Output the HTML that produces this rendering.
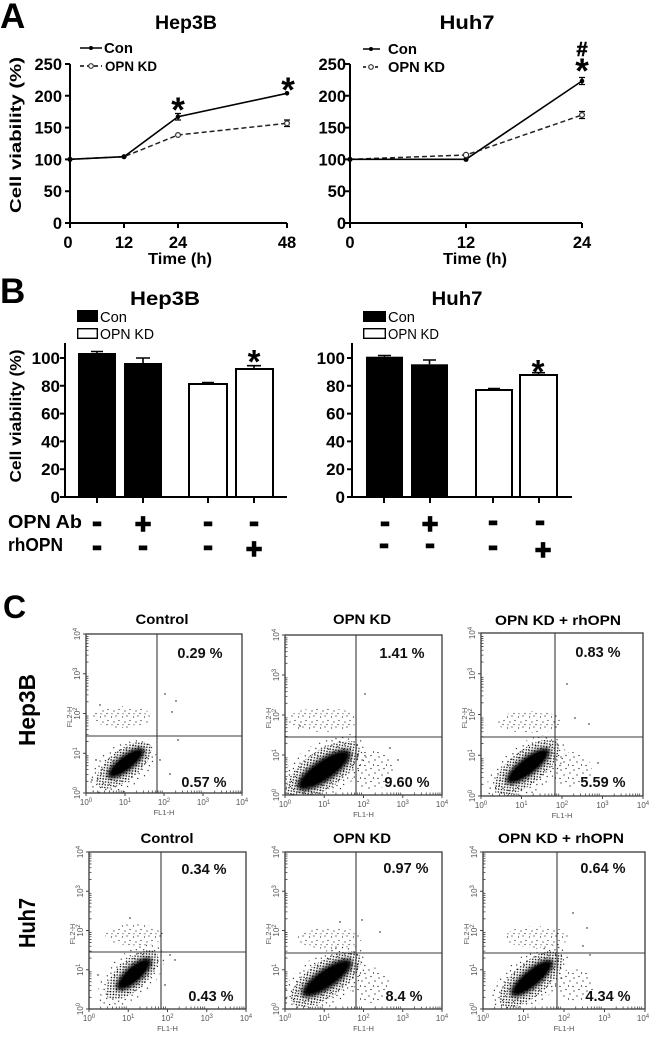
<!DOCTYPE html>
<html><head><meta charset="utf-8"><style>
html,body{margin:0;padding:0;background:#fff;}
svg{display:block;}
text{font-family:"Liberation Sans",Arial,sans-serif;}
.b{font-weight:bold;}
</style></head><body>
<svg width="650" height="1045" viewBox="0 0 650 1045" xmlns="http://www.w3.org/2000/svg">
<defs>
<pattern id="sp" width="13" height="13" patternUnits="userSpaceOnUse"><g fill="#000"><circle cx="2" cy="3" r="0.6"/><circle cx="7" cy="1.5" r="0.6"/><circle cx="11" cy="6" r="0.6"/><circle cx="5" cy="8" r="0.6"/><circle cx="9.5" cy="11" r="0.6"/><circle cx="1" cy="11.5" r="0.6"/></g></pattern>
<pattern id="sp2" width="11" height="11" patternUnits="userSpaceOnUse"><g fill="#222"><circle cx="1.5" cy="2" r="0.6"/><circle cx="6" cy="1" r="0.6"/><circle cx="9" cy="5.5" r="0.6"/><circle cx="4" cy="7" r="0.6"/><circle cx="8" cy="9.5" r="0.6"/><circle cx="2" cy="9.8" r="0.55"/></g></pattern>
<pattern id="md" width="4" height="4" patternUnits="userSpaceOnUse"><circle cx="1" cy="1" r="0.75" fill="#000"/><circle cx="3" cy="3" r="0.75" fill="#000"/></pattern>
<filter id="bl" x="-50%" y="-50%" width="200%" height="200%"><feGaussianBlur stdDeviation="2"/></filter>
<path id="mx" d="M11.7 0v-2.5M18.6 0v-2.5M23.5 0v-2.5M27.3 0v-2.5M30.3 0v-2.5M33 0v-2.5M35.2 0v-2.5M37.2 0v-2.5" stroke="#444" stroke-width="0.8"/>
<path id="my" d="M0 -11.7h2.5M0 -18.6h2.5M0 -23.5h2.5M0 -27.3h2.5M0 -30.3h2.5M0 -33h2.5M0 -35.2h2.5M0 -37.2h2.5" stroke="#444" stroke-width="0.8"/>
<clipPath id="c1"><rect x="86" y="634" width="156" height="159"/></clipPath>
<clipPath id="c2"><rect x="285" y="635" width="157" height="160"/></clipPath>
<clipPath id="c3"><rect x="481" y="633" width="162" height="163"/></clipPath>
<clipPath id="c4"><rect x="89" y="852" width="157" height="157"/></clipPath>
<clipPath id="c5"><rect x="285" y="852" width="157" height="157"/></clipPath>
<clipPath id="c6"><rect x="483" y="852" width="162" height="157"/></clipPath>
</defs>

<!-- ================= PANEL A LEFT ================= -->
<text x="0" y="28" class="b" font-size="35">A</text>
<text x="186" y="29" class="b" font-size="19" text-anchor="middle" textLength="62" lengthAdjust="spacingAndGlyphs">Hep3B</text>
<line x1="80" y1="48" x2="102" y2="48" stroke="#000" stroke-width="1.5"/>
<circle cx="91" cy="48" r="2" fill="#000"/>
<text x="104" y="53" class="b" font-size="15" textLength="29" lengthAdjust="spacingAndGlyphs">Con</text>
<line x1="80" y1="66" x2="102" y2="66" stroke="#000" stroke-width="1.5" stroke-dasharray="4,3"/>
<circle cx="91" cy="66" r="2.3" fill="#fff" stroke="#333" stroke-width="1.2"/>
<text x="105" y="71" class="b" font-size="14" textLength="52" lengthAdjust="spacingAndGlyphs">OPN KD</text>
<path d="M70 64V223H287" fill="none" stroke="#000" stroke-width="2"/>
<path d="M65 64H70M65 95.8H70M65 127.6H70M65 159.4H70M65 191.2H70M65 223H70M70 223V228M124 223V228M178 223V228M287 223V228" stroke="#000" stroke-width="2"/>
<g class="b" font-size="16.5" text-anchor="end">
<text x="62" y="70">250</text><text x="62" y="101.8">200</text><text x="62" y="133.6">150</text><text x="62" y="165.4">100</text><text x="62" y="197.2">50</text><text x="62" y="229">0</text>
</g>
<g class="b" font-size="16.5" text-anchor="middle">
<text x="68" y="248">0</text><text x="124" y="248">12</text><text x="178" y="248">24</text><text x="287" y="248">48</text>
</g>
<text x="180" y="264" class="b" font-size="16" text-anchor="middle" textLength="64" lengthAdjust="spacingAndGlyphs">Time (h)</text>
<text transform="translate(21,135) rotate(-90)" class="b" font-size="16" text-anchor="middle" textLength="156" lengthAdjust="spacingAndGlyphs">Cell viability (%)</text>
<polyline points="70,159.3 124,156.7 178,135 287,123.3" fill="none" stroke="#222" stroke-width="1.5" stroke-dasharray="5,3"/>
<polyline points="70,159.3 124,156.7 178,116.7 287,93.3" fill="none" stroke="#000" stroke-width="1.6"/>
<path d="M178 113.5V120M175 113.5H181M175 120H181M287 120V126.5M284 120H290M284 126.5H290" stroke="#000" stroke-width="1.3"/>
<circle cx="70" cy="159.3" r="2.6" fill="#000"/><circle cx="124" cy="156.7" r="2.6" fill="#000"/><circle cx="178" cy="116.7" r="2.3" fill="#000"/><circle cx="287" cy="93.3" r="2.3" fill="#000"/>
<circle cx="178" cy="135" r="2.4" fill="#fff" stroke="#333" stroke-width="1.2"/><circle cx="287" cy="123.3" r="2.4" fill="#fff" stroke="#333" stroke-width="1.2"/>
<text x="178" y="122" class="b" font-size="35" text-anchor="middle">*</text>
<text x="288" y="102" class="b" font-size="35" text-anchor="middle">*</text>

<!-- ================= PANEL A RIGHT ================= -->
<text x="467" y="29" class="b" font-size="19" text-anchor="middle" textLength="55" lengthAdjust="spacingAndGlyphs">Huh7</text>
<line x1="363" y1="49" x2="380" y2="49" stroke="#000" stroke-width="1.5"/>
<circle cx="371" cy="49" r="2" fill="#000"/>
<text x="388" y="54" class="b" font-size="15" textLength="29" lengthAdjust="spacingAndGlyphs">Con</text>
<line x1="363" y1="67" x2="380" y2="67" stroke="#000" stroke-width="1.5" stroke-dasharray="3,3"/>
<circle cx="371" cy="67" r="2.3" fill="#fff" stroke="#333" stroke-width="1.2"/>
<text x="388" y="72" class="b" font-size="15" textLength="57" lengthAdjust="spacingAndGlyphs">OPN KD</text>
<path d="M350 64V223H582" fill="none" stroke="#000" stroke-width="2"/>
<path d="M345 64H350M345 95.8H350M345 127.6H350M345 159.4H350M345 191.2H350M345 223H350M350 223V228M466 223V228M582 223V228" stroke="#000" stroke-width="2"/>
<g class="b" font-size="16.5" text-anchor="end">
<text x="346" y="70">250</text><text x="346" y="101.8">200</text><text x="346" y="133.6">150</text><text x="346" y="165.4">100</text><text x="346" y="197.2">50</text><text x="346" y="229">0</text>
</g>
<g class="b" font-size="16.5" text-anchor="middle">
<text x="350" y="248">0</text><text x="466" y="248">12</text><text x="582" y="248">24</text>
</g>
<text x="475" y="264" class="b" font-size="16" text-anchor="middle" textLength="64" lengthAdjust="spacingAndGlyphs">Time (h)</text>
<polyline points="350,159.3 466,155 582,115" fill="none" stroke="#222" stroke-width="1.5" stroke-dasharray="5,3"/>
<polyline points="350,159.3 466,159.3 582,81" fill="none" stroke="#000" stroke-width="1.6"/>
<path d="M582 77.5V84.5M579 77.5H585M579 84.5H585M582 111.5V118.5M579 111.5H585M579 118.5H585" stroke="#000" stroke-width="1.3"/>
<circle cx="350" cy="159.3" r="2.6" fill="#000"/><circle cx="466" cy="159.3" r="2.6" fill="#000"/><circle cx="582" cy="81" r="2.3" fill="#000"/>
<circle cx="466" cy="155" r="2.6" fill="#fff" stroke="#333" stroke-width="1.2"/><circle cx="582" cy="115" r="2.4" fill="#fff" stroke="#333" stroke-width="1.2"/>
<text x="582" y="56" class="b" font-size="20" text-anchor="middle" stroke="#000" stroke-width="0.6">#</text>
<text x="582" y="83" class="b" font-size="35" text-anchor="middle">*</text>

<!-- ================= PANEL B LEFT ================= -->
<text x="0" y="303" class="b" font-size="35">B</text>
<text x="165" y="305" class="b" font-size="19" text-anchor="middle" textLength="70" lengthAdjust="spacingAndGlyphs">Hep3B</text>
<rect x="77" y="310" width="21" height="12" fill="#000"/>
<text x="100" y="322" font-size="15" textLength="27" lengthAdjust="spacingAndGlyphs">Con</text>
<rect x="77.7" y="328.7" width="19.6" height="9.6" fill="#fff" stroke="#000" stroke-width="1.4"/>
<text x="100" y="339" font-size="15" textLength="54" lengthAdjust="spacingAndGlyphs">OPN KD</text>
<path d="M65 343V497H287" fill="none" stroke="#000" stroke-width="2"/>
<path d="M60 358H65M60 385.8H65M60 413.6H65M60 441.4H65M60 469.2H65M60 497H65M97 497V503M143 497V503M208 497V503M254 497V503" stroke="#000" stroke-width="2"/>
<g class="b" font-size="17" text-anchor="end">
<text x="60" y="364">100</text><text x="60" y="391.8">80</text><text x="60" y="419.6">60</text><text x="60" y="447.4">40</text><text x="60" y="475.2">20</text><text x="60" y="503">0</text>
</g>
<text transform="translate(21,416) rotate(-90)" class="b" font-size="16" text-anchor="middle" textLength="133" lengthAdjust="spacingAndGlyphs">Cell viability (%)</text>
<rect x="78" y="353" width="38" height="144" fill="#000"/>
<rect x="124" y="363" width="38" height="134" fill="#000"/>
<rect x="189" y="384" width="38" height="113" fill="#fff" stroke="#000" stroke-width="2"/>
<rect x="236" y="369" width="37" height="128" fill="#fff" stroke="#000" stroke-width="2"/>
<path d="M97 353V351.5M91 351.5H103M143 363V358M136 358H150M208 384V382.5M202 382.5H214M254 369V365.7M247 365.7H261" stroke="#000" stroke-width="1.6"/>
<text x="254" y="373" class="b" font-size="33" text-anchor="middle">*</text>
<text x="8" y="528" class="b" font-size="18" textLength="74" lengthAdjust="spacingAndGlyphs">OPN Ab</text>
<text x="8" y="551" class="b" font-size="18" textLength="55" lengthAdjust="spacingAndGlyphs">rhOPN</text>
<g class="b" font-size="28" text-anchor="middle" stroke="#000" stroke-width="1.4">
<text x="97" y="531">-</text><text x="143" y="533">+</text><text x="208" y="531">-</text><text x="254" y="531">-</text>
<text x="97" y="555">-</text><text x="143" y="555">-</text><text x="208" y="555">-</text><text x="254" y="558">+</text>
</g>

<!-- ================= PANEL B RIGHT ================= -->
<text x="457" y="305" class="b" font-size="19" text-anchor="middle" textLength="51" lengthAdjust="spacingAndGlyphs">Huh7</text>
<rect x="363" y="311" width="23" height="11" fill="#000"/>
<text x="388" y="322" font-size="15" textLength="27" lengthAdjust="spacingAndGlyphs">Con</text>
<rect x="363.7" y="328.7" width="21.6" height="9.6" fill="#fff" stroke="#000" stroke-width="1.4"/>
<text x="388" y="339" font-size="15" textLength="51" lengthAdjust="spacingAndGlyphs">OPN KD</text>
<path d="M352 343V497H572" fill="none" stroke="#000" stroke-width="2"/>
<path d="M347 358H352M347 385.8H352M347 413.6H352M347 441.4H352M347 469.2H352M347 497H352M384 497V503M430 497V503M493 497V503M539 497V503" stroke="#000" stroke-width="2"/>
<g class="b" font-size="17" text-anchor="end">
<text x="345" y="364">100</text><text x="345" y="391.8">80</text><text x="345" y="419.6">60</text><text x="345" y="447.4">40</text><text x="345" y="475.2">20</text><text x="345" y="503">0</text>
</g>
<rect x="366" y="356.7" width="37" height="140.3" fill="#000"/>
<rect x="411" y="364.3" width="37" height="132.7" fill="#000"/>
<rect x="476" y="390" width="36" height="107" fill="#fff" stroke="#000" stroke-width="2"/>
<rect x="520" y="375" width="37" height="122" fill="#fff" stroke="#000" stroke-width="2"/>
<path d="M384.5 356.7V355.5M378 355.5H391M429.5 364.3V360M423 360H436M494 390V388.5M488 388.5H500M538.5 375V372.7M532 372.7H545" stroke="#000" stroke-width="1.6"/>
<text x="538" y="383" class="b" font-size="33" text-anchor="middle">*</text>
<g class="b" font-size="28" text-anchor="middle" stroke="#000" stroke-width="1.4">
<text x="385" y="531">-</text><text x="430" y="533">+</text><text x="493" y="530">-</text><text x="540" y="530">-</text>
<text x="384" y="553">-</text><text x="430" y="553">-</text><text x="493" y="555">-</text><text x="543" y="559">+</text>
</g>

<!-- ================= PANEL C ================= -->
<text x="3" y="618" class="b" font-size="32">C</text>
<text transform="translate(35,710) rotate(-90)" class="b" font-size="23" text-anchor="middle" textLength="72" lengthAdjust="spacingAndGlyphs">Hep3B</text>
<text transform="translate(35,923) rotate(-90)" class="b" font-size="23" text-anchor="middle" textLength="50" lengthAdjust="spacingAndGlyphs">Huh7</text>
<text x="162" y="624" class="b" font-size="14" text-anchor="middle" textLength="53" lengthAdjust="spacingAndGlyphs">Control</text>
<text x="362" y="624" class="b" font-size="14" text-anchor="middle" textLength="58" lengthAdjust="spacingAndGlyphs">OPN KD</text>
<text x="558" y="625" class="b" font-size="14" text-anchor="middle" textLength="126" lengthAdjust="spacingAndGlyphs">OPN KD + rhOPN</text>
<text x="167" y="843" class="b" font-size="14" text-anchor="middle" textLength="53" lengthAdjust="spacingAndGlyphs">Control</text>
<text x="362" y="843" class="b" font-size="14" text-anchor="middle" textLength="58" lengthAdjust="spacingAndGlyphs">OPN KD</text>
<text x="561" y="843" class="b" font-size="14" text-anchor="middle" textLength="126" lengthAdjust="spacingAndGlyphs">OPN KD + rhOPN</text>

<!-- clusters -->
<g clip-path="url(#c1)">
<ellipse cx="122" cy="768" rx="40" ry="22" transform="rotate(-38 122 768)" fill="url(#sp)"/>
<ellipse cx="124" cy="765" rx="33" ry="15" transform="rotate(-38 124 765)" fill="url(#md)"/>
<ellipse cx="126" cy="763" rx="23" ry="8" transform="rotate(-38 126 763)" fill="#000" filter="url(#bl)"/>
<ellipse cx="126" cy="763" rx="18" ry="5.5" transform="rotate(-38 126 763)" fill="#000"/>
<ellipse cx="122" cy="717" rx="30" ry="11" fill="url(#sp2)"/>
<g fill="#000"><circle cx="165" cy="694" r=".7"/><circle cx="176" cy="701" r=".7"/><circle cx="172" cy="712" r=".7"/><circle cx="160" cy="760" r=".7"/><circle cx="170" cy="774" r=".7"/><circle cx="178" cy="740" r=".7"/><circle cx="96" cy="760" r=".7"/><circle cx="92" cy="780" r=".7"/><circle cx="100" cy="705" r=".7"/></g>
</g>
<g clip-path="url(#c2)">
<ellipse cx="322" cy="771" rx="52" ry="27" transform="rotate(-35 322 771)" fill="url(#sp)"/>
<ellipse cx="323" cy="770" rx="43" ry="19" transform="rotate(-35 323 770)" fill="url(#md)"/>
<ellipse cx="324" cy="770" rx="32" ry="11" transform="rotate(-35 324 770)" fill="#000" filter="url(#bl)"/>
<ellipse cx="324" cy="770" rx="26" ry="8" transform="rotate(-35 324 770)" fill="#000"/>
<ellipse cx="323" cy="720" rx="35" ry="12" fill="url(#sp2)"/>
<ellipse cx="372" cy="770" rx="22" ry="20" fill="url(#sp)"/>
<g fill="#000"><circle cx="365" cy="694" r=".7"/><circle cx="390" cy="748" r=".7"/><circle cx="398" cy="760" r=".7"/><circle cx="300" cy="726" r=".7"/></g>
</g>
<g clip-path="url(#c3)">
<ellipse cx="526" cy="769" rx="46" ry="24" transform="rotate(-38 526 769)" fill="url(#sp)"/>
<ellipse cx="527" cy="767" rx="39" ry="17" transform="rotate(-38 527 767)" fill="url(#md)"/>
<ellipse cx="528" cy="766" rx="27" ry="9" transform="rotate(-38 528 766)" fill="#000" filter="url(#bl)"/>
<ellipse cx="528" cy="766" rx="22" ry="6.5" transform="rotate(-38 528 766)" fill="#000"/>
<ellipse cx="530" cy="722" rx="33" ry="11" fill="url(#sp2)"/>
<ellipse cx="572" cy="770" rx="20" ry="18" fill="url(#sp)"/>
<g fill="#000"><circle cx="567" cy="684" r=".7"/><circle cx="589" cy="724" r=".7"/><circle cx="575" cy="718" r=".7"/><circle cx="598" cy="763" r=".7"/></g>
</g>
<g clip-path="url(#c4)">
<ellipse cx="131" cy="976" rx="40" ry="22" transform="rotate(-42 131 976)" fill="url(#sp)"/>
<ellipse cx="132" cy="975" rx="33" ry="15" transform="rotate(-42 132 975)" fill="url(#md)"/>
<ellipse cx="134" cy="974" rx="23" ry="8.5" transform="rotate(-42 134 974)" fill="#000" filter="url(#bl)"/>
<ellipse cx="134" cy="974" rx="18" ry="6" transform="rotate(-42 134 974)" fill="#000"/>
<ellipse cx="135" cy="935" rx="30" ry="11" fill="url(#sp2)"/>
<g fill="#000"><circle cx="170" cy="955" r=".7"/><circle cx="175" cy="960" r=".7"/><circle cx="165" cy="985" r=".7"/><circle cx="130" cy="918" r=".7"/><circle cx="98" cy="975" r=".7"/></g>
</g>
<g clip-path="url(#c5)">
<ellipse cx="325" cy="980" rx="48" ry="25" transform="rotate(-35 325 980)" fill="url(#sp)"/>
<ellipse cx="326" cy="979" rx="41" ry="18" transform="rotate(-35 326 979)" fill="url(#md)"/>
<ellipse cx="327" cy="978" rx="30" ry="10" transform="rotate(-35 327 978)" fill="#000" filter="url(#bl)"/>
<ellipse cx="327" cy="978" rx="24" ry="7" transform="rotate(-35 327 978)" fill="#000"/>
<ellipse cx="330" cy="938" rx="32" ry="11" fill="url(#sp2)"/>
<ellipse cx="370" cy="985" rx="20" ry="18" fill="url(#sp)"/>
<g fill="#000"><circle cx="362" cy="920" r=".7"/><circle cx="380" cy="932" r=".7"/><circle cx="340" cy="922" r=".7"/></g>
</g>
<g clip-path="url(#c6)">
<ellipse cx="530" cy="980" rx="46" ry="24" transform="rotate(-40 530 980)" fill="url(#sp)"/>
<ellipse cx="531" cy="979" rx="39" ry="17" transform="rotate(-40 531 979)" fill="url(#md)"/>
<ellipse cx="532" cy="978" rx="27" ry="9" transform="rotate(-40 532 978)" fill="#000" filter="url(#bl)"/>
<ellipse cx="532" cy="978" rx="22" ry="6.5" transform="rotate(-40 532 978)" fill="#000"/>
<ellipse cx="537" cy="937" rx="32" ry="11" fill="url(#sp2)"/>
<ellipse cx="574" cy="985" rx="20" ry="16" fill="url(#sp)"/>
<g fill="#000"><circle cx="573" cy="913" r=".7"/><circle cx="583" cy="946" r=".7"/><circle cx="587" cy="928" r=".7"/><circle cx="590" cy="955" r=".7"/></g>
</g>

<!-- P1 -->
<g transform="translate(86,634)">
<rect width="156" height="159" fill="none" stroke="#3a3a3a" stroke-width="1.3"/>
<path d="M71 0V159M0 102H156" stroke="#3a3a3a" stroke-width="1.1"/>
<path d="M0 159v3M39 159v3M78 159v3M117 159v3M156 159v3M0 0h-3M0 39.75h-3M0 79.5h-3M0 119.25h-3M0 159h-3" stroke="#444" stroke-width="1"/>
<use href="#mx" x="0" y="159"/><use href="#mx" x="39" y="159"/><use href="#mx" x="78" y="159"/><use href="#mx" x="117" y="159"/>
<use href="#my" x="0" y="159"/><use href="#my" x="0" y="119.25"/><use href="#my" x="0" y="79.5"/><use href="#my" x="0" y="39.75"/>
<g font-size="8" fill="#555" text-anchor="middle">
<text x="0" y="171">10<tspan dy="-3" font-size="6">0</tspan></text><text x="39" y="171">10<tspan dy="-3" font-size="6">1</tspan></text><text x="78" y="171">10<tspan dy="-3" font-size="6">2</tspan></text><text x="117" y="171">10<tspan dy="-3" font-size="6">3</tspan></text><text x="156" y="171">10<tspan dy="-3" font-size="6">4</tspan></text>
<text x="78" y="181" font-size="7.5">FL1-H</text>
<text transform="translate(-6,159) rotate(-90)">10<tspan dy="-3" font-size="6">0</tspan></text><text transform="translate(-6,119.25) rotate(-90)">10<tspan dy="-3" font-size="6">1</tspan></text><text transform="translate(-6,79.5) rotate(-90)">10<tspan dy="-3" font-size="6">2</tspan></text><text transform="translate(-6,39.75) rotate(-90)">10<tspan dy="-3" font-size="6">3</tspan></text><text transform="translate(-6,0) rotate(-90)">10<tspan dy="-3" font-size="6">4</tspan></text>
<text transform="translate(-14,83) rotate(-90)" font-size="7.5">FL2-H</text>
</g>
</g>
<!-- P2 -->
<g transform="translate(285,635)">
<rect width="157" height="160" fill="none" stroke="#3a3a3a" stroke-width="1.3"/>
<path d="M71 0V160M0 102H157" stroke="#3a3a3a" stroke-width="1.1"/>
<path d="M0 160v3M39.25 160v3M78.5 160v3M117.75 160v3M157 160v3M0 0h-3M0 40h-3M0 80h-3M0 120h-3M0 160h-3" stroke="#444" stroke-width="1"/>
<use href="#mx" x="0" y="160"/><use href="#mx" x="39.25" y="160"/><use href="#mx" x="78.5" y="160"/><use href="#mx" x="117.75" y="160"/>
<use href="#my" x="0" y="160"/><use href="#my" x="0" y="120"/><use href="#my" x="0" y="80"/><use href="#my" x="0" y="40"/>
<g font-size="8" fill="#555" text-anchor="middle">
<text x="0" y="172">10<tspan dy="-3" font-size="6">0</tspan></text><text x="39.25" y="172">10<tspan dy="-3" font-size="6">1</tspan></text><text x="78.5" y="172">10<tspan dy="-3" font-size="6">2</tspan></text><text x="117.75" y="172">10<tspan dy="-3" font-size="6">3</tspan></text><text x="157" y="172">10<tspan dy="-3" font-size="6">4</tspan></text>
<text x="78.5" y="182" font-size="7.5">FL1-H</text>
<text transform="translate(-6,160) rotate(-90)">10<tspan dy="-3" font-size="6">0</tspan></text><text transform="translate(-6,120) rotate(-90)">10<tspan dy="-3" font-size="6">1</tspan></text><text transform="translate(-6,80) rotate(-90)">10<tspan dy="-3" font-size="6">2</tspan></text><text transform="translate(-6,40) rotate(-90)">10<tspan dy="-3" font-size="6">3</tspan></text><text transform="translate(-6,0) rotate(-90)">10<tspan dy="-3" font-size="6">4</tspan></text>
<text transform="translate(-14,83) rotate(-90)" font-size="7.5">FL2-H</text>
</g>
</g>
<!-- P3 -->
<g transform="translate(481,633)">
<rect width="162" height="163" fill="none" stroke="#3a3a3a" stroke-width="1.3"/>
<path d="M74 0V163M0 104H162" stroke="#3a3a3a" stroke-width="1.1"/>
<path d="M0 163v3M40.5 163v3M81 163v3M121.5 163v3M162 163v3M0 0h-3M0 40.75h-3M0 81.5h-3M0 122.25h-3M0 163h-3" stroke="#444" stroke-width="1"/>
<use href="#mx" x="0" y="163"/><use href="#mx" x="40.5" y="163"/><use href="#mx" x="81" y="163"/><use href="#mx" x="121.5" y="163"/>
<use href="#my" x="0" y="163"/><use href="#my" x="0" y="122.25"/><use href="#my" x="0" y="81.5"/><use href="#my" x="0" y="40.75"/>
<g font-size="8" fill="#555" text-anchor="middle">
<text x="0" y="175">10<tspan dy="-3" font-size="6">0</tspan></text><text x="40.5" y="175">10<tspan dy="-3" font-size="6">1</tspan></text><text x="81" y="175">10<tspan dy="-3" font-size="6">2</tspan></text><text x="121.5" y="175">10<tspan dy="-3" font-size="6">3</tspan></text><text x="162" y="175">10<tspan dy="-3" font-size="6">4</tspan></text>
<text x="81" y="185" font-size="7.5">FL1-H</text>
<text transform="translate(-6,163) rotate(-90)">10<tspan dy="-3" font-size="6">0</tspan></text><text transform="translate(-6,122.25) rotate(-90)">10<tspan dy="-3" font-size="6">1</tspan></text><text transform="translate(-6,81.5) rotate(-90)">10<tspan dy="-3" font-size="6">2</tspan></text><text transform="translate(-6,40.75) rotate(-90)">10<tspan dy="-3" font-size="6">3</tspan></text><text transform="translate(-6,0) rotate(-90)">10<tspan dy="-3" font-size="6">4</tspan></text>
<text transform="translate(-14,85) rotate(-90)" font-size="7.5">FL2-H</text>
</g>
</g>
<!-- P4 -->
<g transform="translate(89,852)">
<rect width="157" height="157" fill="none" stroke="#3a3a3a" stroke-width="1.3"/>
<path d="M72 0V157M0 100H157" stroke="#3a3a3a" stroke-width="1.1"/>
<path d="M0 157v3M39.25 157v3M78.5 157v3M117.75 157v3M157 157v3M0 0h-3M0 39.25h-3M0 78.5h-3M0 117.75h-3M0 157h-3" stroke="#444" stroke-width="1"/>
<use href="#mx" x="0" y="157"/><use href="#mx" x="39.25" y="157"/><use href="#mx" x="78.5" y="157"/><use href="#mx" x="117.75" y="157"/>
<use href="#my" x="0" y="157"/><use href="#my" x="0" y="117.75"/><use href="#my" x="0" y="78.5"/><use href="#my" x="0" y="39.25"/>
<g font-size="8" fill="#555" text-anchor="middle">
<text x="0" y="169">10<tspan dy="-3" font-size="6">0</tspan></text><text x="39.25" y="169">10<tspan dy="-3" font-size="6">1</tspan></text><text x="78.5" y="169">10<tspan dy="-3" font-size="6">2</tspan></text><text x="117.75" y="169">10<tspan dy="-3" font-size="6">3</tspan></text><text x="157" y="169">10<tspan dy="-3" font-size="6">4</tspan></text>
<text x="78.5" y="179" font-size="7.5">FL1-H</text>
<text transform="translate(-6,157) rotate(-90)">10<tspan dy="-3" font-size="6">0</tspan></text><text transform="translate(-6,117.75) rotate(-90)">10<tspan dy="-3" font-size="6">1</tspan></text><text transform="translate(-6,78.5) rotate(-90)">10<tspan dy="-3" font-size="6">2</tspan></text><text transform="translate(-6,39.25) rotate(-90)">10<tspan dy="-3" font-size="6">3</tspan></text><text transform="translate(-6,0) rotate(-90)">10<tspan dy="-3" font-size="6">4</tspan></text>
<text transform="translate(-14,82) rotate(-90)" font-size="7.5">FL2-H</text>
</g>
</g>
<!-- P5 -->
<g transform="translate(285,852)">
<rect width="157" height="157" fill="none" stroke="#3a3a3a" stroke-width="1.3"/>
<path d="M71 0V157M0 101H157" stroke="#3a3a3a" stroke-width="1.1"/>
<path d="M0 157v3M39.25 157v3M78.5 157v3M117.75 157v3M157 157v3M0 0h-3M0 39.25h-3M0 78.5h-3M0 117.75h-3M0 157h-3" stroke="#444" stroke-width="1"/>
<use href="#mx" x="0" y="157"/><use href="#mx" x="39.25" y="157"/><use href="#mx" x="78.5" y="157"/><use href="#mx" x="117.75" y="157"/>
<use href="#my" x="0" y="157"/><use href="#my" x="0" y="117.75"/><use href="#my" x="0" y="78.5"/><use href="#my" x="0" y="39.25"/>
<g font-size="8" fill="#555" text-anchor="middle">
<text x="0" y="169">10<tspan dy="-3" font-size="6">0</tspan></text><text x="39.25" y="169">10<tspan dy="-3" font-size="6">1</tspan></text><text x="78.5" y="169">10<tspan dy="-3" font-size="6">2</tspan></text><text x="117.75" y="169">10<tspan dy="-3" font-size="6">3</tspan></text><text x="157" y="169">10<tspan dy="-3" font-size="6">4</tspan></text>
<text x="78.5" y="179" font-size="7.5">FL1-H</text>
<text transform="translate(-6,157) rotate(-90)">10<tspan dy="-3" font-size="6">0</tspan></text><text transform="translate(-6,117.75) rotate(-90)">10<tspan dy="-3" font-size="6">1</tspan></text><text transform="translate(-6,78.5) rotate(-90)">10<tspan dy="-3" font-size="6">2</tspan></text><text transform="translate(-6,39.25) rotate(-90)">10<tspan dy="-3" font-size="6">3</tspan></text><text transform="translate(-6,0) rotate(-90)">10<tspan dy="-3" font-size="6">4</tspan></text>
<text transform="translate(-14,82) rotate(-90)" font-size="7.5">FL2-H</text>
</g>
</g>
<!-- P6 -->
<g transform="translate(483,852)">
<rect width="162" height="157" fill="none" stroke="#3a3a3a" stroke-width="1.3"/>
<path d="M74 0V157M0 101H162" stroke="#3a3a3a" stroke-width="1.1"/>
<path d="M0 157v3M40.5 157v3M81 157v3M121.5 157v3M162 157v3M0 0h-3M0 39.25h-3M0 78.5h-3M0 117.75h-3M0 157h-3" stroke="#444" stroke-width="1"/>
<use href="#mx" x="0" y="157"/><use href="#mx" x="40.5" y="157"/><use href="#mx" x="81" y="157"/><use href="#mx" x="121.5" y="157"/>
<use href="#my" x="0" y="157"/><use href="#my" x="0" y="117.75"/><use href="#my" x="0" y="78.5"/><use href="#my" x="0" y="39.25"/>
<g font-size="8" fill="#555" text-anchor="middle">
<text x="0" y="169">10<tspan dy="-3" font-size="6">0</tspan></text><text x="40.5" y="169">10<tspan dy="-3" font-size="6">1</tspan></text><text x="81" y="169">10<tspan dy="-3" font-size="6">2</tspan></text><text x="121.5" y="169">10<tspan dy="-3" font-size="6">3</tspan></text><text x="160" y="169">10<tspan dy="-3" font-size="6">4</tspan></text>
<text x="81" y="179" font-size="7.5">FL1-H</text>
<text transform="translate(-6,157) rotate(-90)">10<tspan dy="-3" font-size="6">0</tspan></text><text transform="translate(-6,117.75) rotate(-90)">10<tspan dy="-3" font-size="6">1</tspan></text><text transform="translate(-6,78.5) rotate(-90)">10<tspan dy="-3" font-size="6">2</tspan></text><text transform="translate(-6,39.25) rotate(-90)">10<tspan dy="-3" font-size="6">3</tspan></text><text transform="translate(-6,0) rotate(-90)">10<tspan dy="-3" font-size="6">4</tspan></text>
<text transform="translate(-14,82) rotate(-90)" font-size="7.5">FL2-H</text>
</g>
</g>

<!-- percentages -->
<g class="b" font-size="14.5" text-anchor="middle" fill="#111">
<text x="200" y="658">0.29 %</text><text x="204" y="787">0.57 %</text>
<text x="402" y="658">1.41 %</text><text x="407" y="787">9.60 %</text>
<text x="598" y="657">0.83 %</text><text x="603" y="787">5.59 %</text>
<text x="204" y="874">0.34 %</text><text x="211" y="1001">0.43 %</text>
<text x="406" y="873">0.97 %</text><text x="404" y="1001">8.4 %</text>
<text x="603" y="873">0.64 %</text><text x="608" y="1001">4.34 %</text>
</g>
</svg>
</body></html>
